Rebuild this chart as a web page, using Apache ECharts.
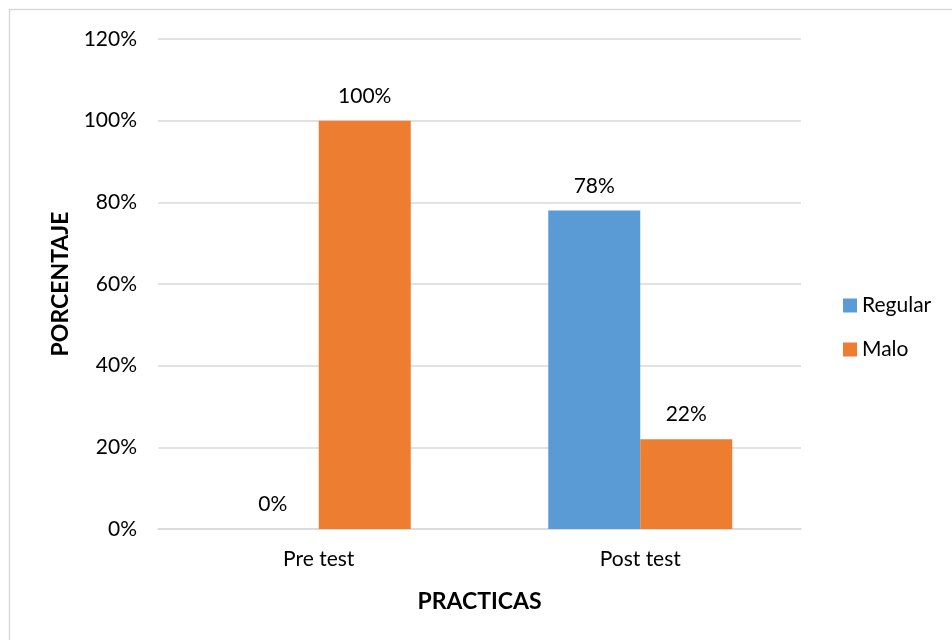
<!DOCTYPE html>
<html>
<head>
<meta charset="utf-8">
<script src="https://cdn.jsdelivr.net/npm/echarts@6/dist/echarts.min.js"></script>
<style>
  html, body { margin: 0; padding: 0; background: #fff; }
  #chart { width: 952px; height: 640px; }
</style>
</head>
<body>
<div id="chart"></div>
<script>
// data
var categories = ['Pre test', 'Post test'];
var regular = [0, 78];
var malo = [100, 22];
var yTicks = [0, 20, 40, 60, 80, 100, 120];

var font = 'Lato';
var myChart = echarts.init(document.getElementById('chart'));
var option = {
    backgroundColor: '#fff',
    textStyle: { fontFamily: font },
    graphic: [{
        type: 'rect',
        shape: { x: 9.5, y: 9.5, width: 1000, height: 1000 },
        style: { fill: 'none', stroke: '#d9d9d9', lineWidth: 1.5 },
        silent: true
    }],
    grid: { left: 158, right: 151, top: 39, bottom: 111 },
    legend: {
        orient: 'vertical',
        left: 838,
        top: 290,
        itemWidth: 14,
        itemHeight: 14,
        itemGap: 23,
        icon: 'rect',
        textStyle: { fontFamily: font, fontSize: 21, color: '#000' },
        data: ['Regular', 'Malo']
    },
    xAxis: {
        type: 'category',
        data: categories,
        name: 'PRACTICAS',
        nameLocation: 'middle',
        nameGap: 61,
        nameTextStyle: { fontFamily: font, fontSize: 23, fontWeight: 'bold', color: '#000' },
        axisTick: { show: false },
        axisLine: { lineStyle: { color: '#d9d9d9', width: 1.5 } },
        axisLabel: { fontFamily: font, fontSize: 21, color: '#000', margin: 20 }
    },
    yAxis: {
        type: 'value',
        min: yTicks[0],
        max: yTicks[yTicks.length - 1],
        interval: 20,
        name: 'PORCENTAJE',
        nameLocation: 'middle',
        nameGap: 86,
        nameTextStyle: { fontFamily: font, fontSize: 23, fontWeight: 'bold', color: '#000' },
        axisLine: { show: false },
        axisTick: { show: false },
        splitLine: { lineStyle: { color: '#d9d9d9', width: 1.5 } },
        axisLabel: {
            fontFamily: font, fontSize: 21, color: '#000', margin: 21,
            formatter: function (v) { return v + '%'; }
        }
    },
    series: [{
        name: 'Regular',
        type: 'bar',
        data: regular,
        barWidth: 92,
        barGap: '0%',
        itemStyle: { color: '#5b9bd5' },
        label: {
            show: true, position: 'top', distance: 14,
            fontFamily: font, fontSize: 21, color: '#000',
            formatter: '{c}%'
        }
    }, {
        name: 'Malo',
        type: 'bar',
        data: malo,
        barWidth: 92,
        barGap: '0%',
        itemStyle: { color: '#ed7d31' },
        label: {
            show: true, position: 'top', distance: 14,
            fontFamily: font, fontSize: 21, color: '#000',
            formatter: '{c}%'
        }
    }]
};
myChart.setOption(option);
</script>
</body>
</html>
